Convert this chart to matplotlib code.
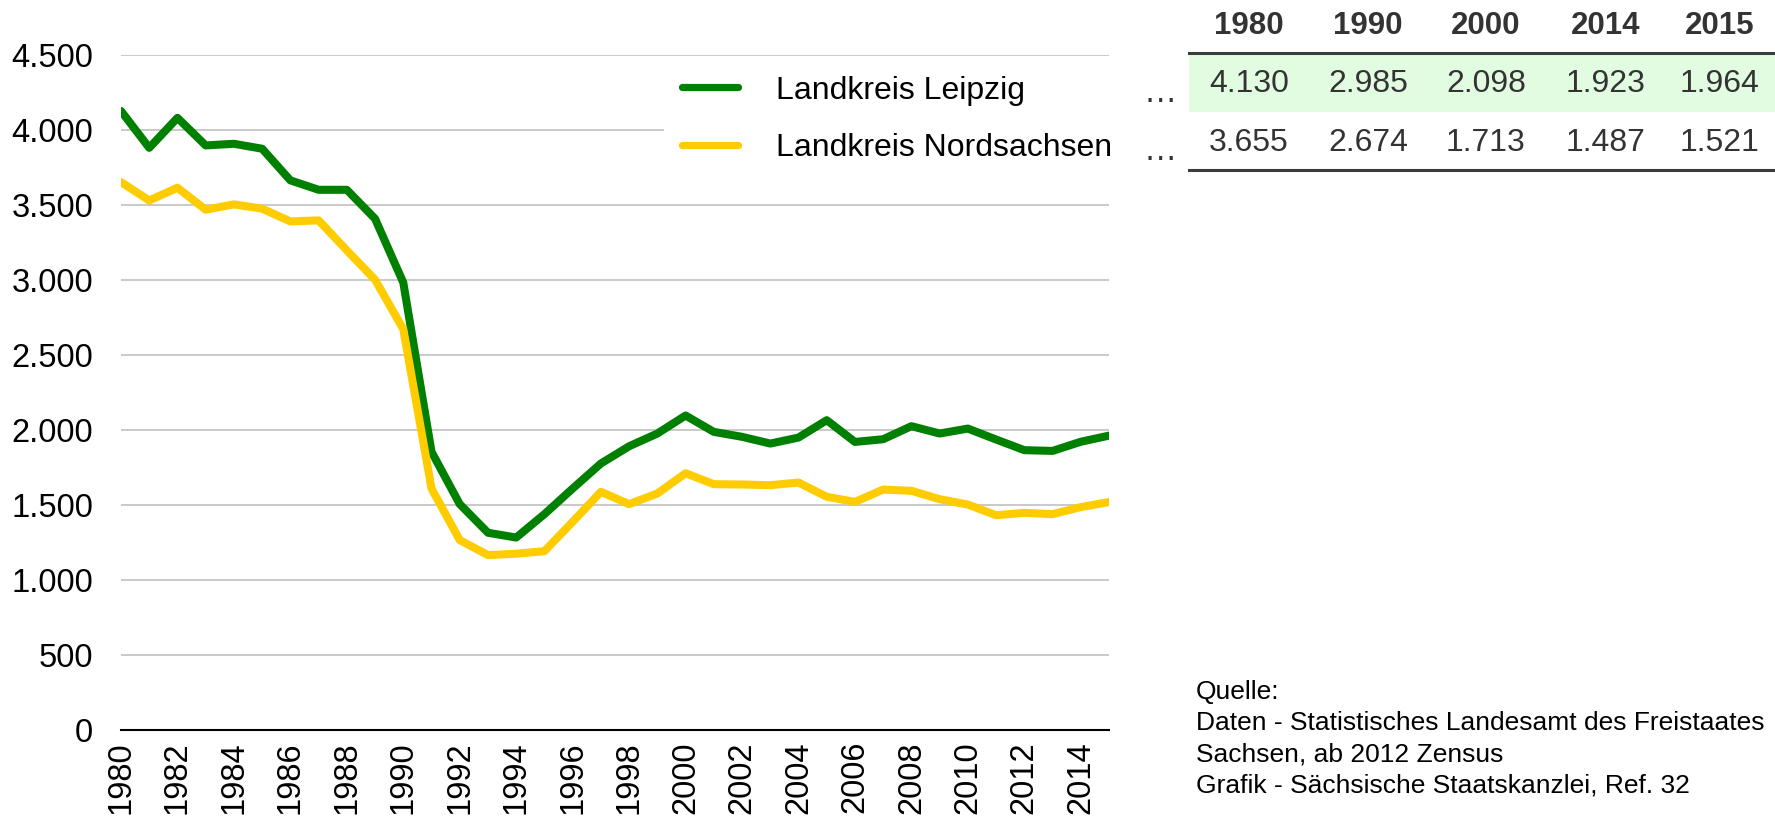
import matplotlib
matplotlib.use("Agg")
import matplotlib.pyplot as plt
from matplotlib.lines import Line2D
from matplotlib.patches import Rectangle

plt.rcParams['font.family'] = ['Liberation Sans', 'DejaVu Sans']

years = list(range(1980, 2016))
leipzig = [4130, 3884, 4084, 3900, 3911, 3878, 3667, 3604, 3604, 3411,
           2985, 1856, 1507, 1316, 1284, 1440, 1611, 1778, 1893, 1978,
           2098, 1989, 1956, 1911, 1951, 2067, 1922, 1940, 2027, 1978,
           2011, 1938, 1867, 1862, 1923, 1964]
nordsachsen = [3655, 3533, 3618, 3471, 3507, 3478, 3393, 3400, 3200, 3004,
               2674, 1611, 1267, 1167, 1176, 1193, 1389, 1589, 1507, 1578,
               1713, 1640, 1638, 1633, 1651, 1556, 1522, 1604, 1596, 1540,
               1504, 1433, 1449, 1440, 1487, 1521]
series_names = ["Landkreis Leipzig", "Landkreis Nordsachsen"]
colors = ["#008000", "#ffcc00"]

table_years = ["1980", "1990", "2000", "2014", "2015"]
table_leipzig = ["4.130", "2.985", "2.098", "1.923", "1.964"]
table_nord = ["3.655", "2.674", "1.713", "1.487", "1.521"]

source_lines = ["Quelle:",
                "Daten - Statistisches Landesamt des Freistaates",
                "Sachsen, ab 2012 Zensus",
                "Grafik - Sächsische Staatskanzlei, Ref. 32"]

W, H = 1775, 821
fig = plt.figure(figsize=(W / 100, H / 100), dpi=100)

def fx(px):
    return px / W

def fy(py):
    return 1 - py / H

ax = fig.add_axes([fx(121), fy(730), fx(1109) - fx(121), fy(55.5) - fy(730)])
ax.plot(years, leipzig, color=colors[0], lw=5.8, label=series_names[0], solid_capstyle='round')
ax.plot(years, nordsachsen, color=colors[1], lw=5.8, label=series_names[1], solid_capstyle='round')
ax.set_xlim(1980, 2015)
ax.set_ylim(0, 4500)
ax.set_yticks(range(0, 4501, 500))
ax.set_yticklabels([f"{v:,}".replace(",", ".") for v in range(0, 4501, 500)])
ax.set_xticks(range(1980, 2015, 2))
ax.set_xticklabels([str(y) for y in range(1980, 2015, 2)], rotation=90)
ax.tick_params(axis='both', length=0, labelsize=23.5, colors='black')
ax.tick_params(axis='y', pad=20)
ax.tick_params(axis='x', pad=8)
ax.grid(axis='y', color='#c0c0c0', lw=1.2)
ax.set_axisbelow(True)
for s in ['top', 'right', 'left']:
    ax.spines[s].set_visible(False)
ax.spines['bottom'].set_color('black')
ax.spines['bottom'].set_linewidth(1.5)
ax.spines['bottom'].set_zorder(5)

leg = ax.legend(loc='upper left', bbox_to_anchor=(fx(664), fy(58)),
                bbox_transform=fig.transFigure, fontsize=23,
                frameon=True, facecolor='white', edgecolor='none', framealpha=1,
                handlelength=1.76, handletextpad=1.2, labelspacing=0.85,
                borderpad=0.55, borderaxespad=0, fancybox=False)
for h in leg.get_lines():
    h.set_linewidth(5.2)
    h.set_solid_capstyle('round')

# Table
col_x = [1249, 1368, 1486, 1606, 1720]
fig.patches.append(Rectangle((fx(1189), fy(112)), fx(1775) - fx(1189), fy(55) - fy(112),
                             transform=fig.transFigure, facecolor='#e2fce2', edgecolor='none'))
for yy in (53.5, 170):
    fig.add_artist(Line2D([fx(1189), fx(1775)], [fy(yy), fy(yy)], color='#3c3c3c', lw=2.2,
                          transform=fig.transFigure))
for cx, yr, v1, v2 in zip(col_x, table_years, table_leipzig, table_nord):
    fig.text(fx(cx), fy(26), yr, ha='center', va='center', fontsize=22.5, fontweight='bold', color='#333333')
    fig.text(fx(cx), fy(84), v1, ha='center', va='center', fontsize=23, color='#333333')
    fig.text(fx(cx), fy(143), v2, ha='center', va='center', fontsize=23, color='#333333')
for yy in (93, 151):
    fig.text(fx(1160), fy(yy), "…", ha='center', va='center', fontsize=24, color='#333333')

for i, line in enumerate(source_lines):
    fig.text(fx(1196), fy(692 + i * 31.3), line, ha='left', va='center', fontsize=19, color='black')

fig.savefig("out.png", dpi=100)
